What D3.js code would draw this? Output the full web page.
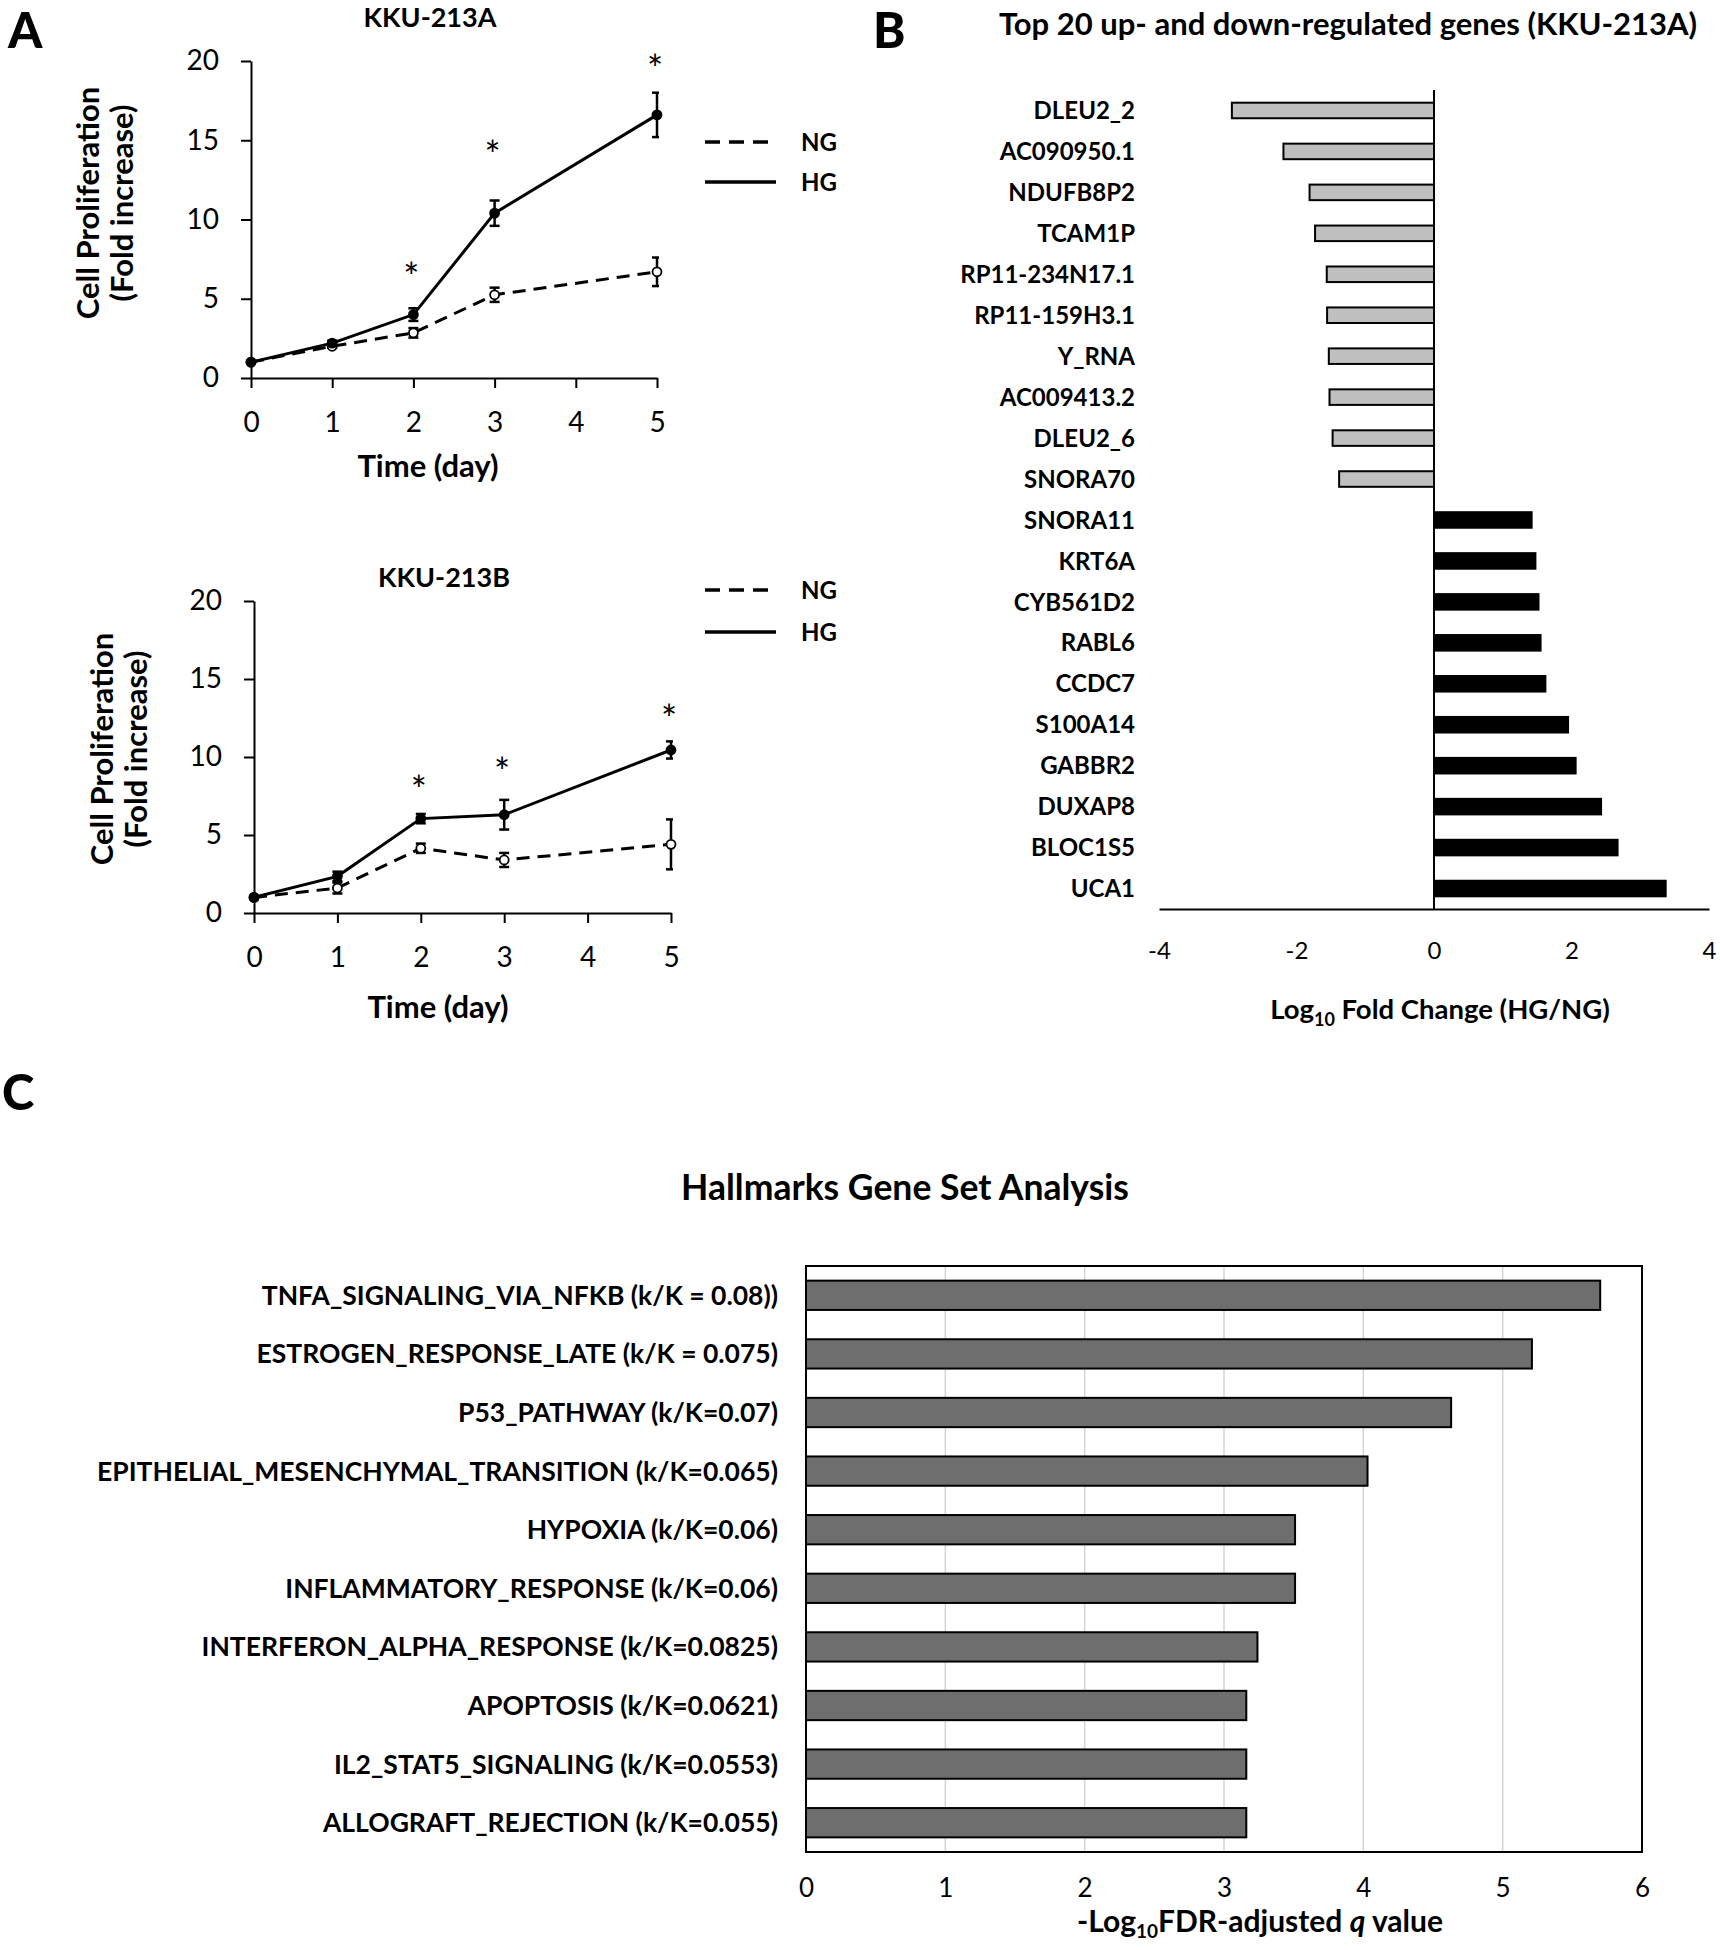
<!DOCTYPE html>
<html><head><meta charset="utf-8">
<script src="https://cdn.jsdelivr.net/npm/d3@7"></script>
<style>
body{margin:0;background:#fff;}
svg{display:block;font-family:Lato,"Open Sans",sans-serif;}
</style>
</head><body>
<svg id="chart" width="1720" height="1950"></svg>
<script>
// ---------- DATA ----------
const days = [0, 1, 2, 3, 5];
const xTicksA = [0, 1, 2, 3, 4, 5];
const yTicksA = [0, 5, 10, 15, 20];
const seriesNames = ["NG", "HG"];

// KKU-213A
const ngA = [1.0, 2.0, 2.85, 5.25, 6.7];
const ngAErr = [0, 0.1, 0.3, 0.45, 0.9];
const hgA = [1.0, 2.2, 4.0, 10.4, 16.6];
const hgAErr = [0, 0.15, 0.4, 0.8, 1.4];
const starDaysA = [2, 3, 5];
const starLevelA = [6.8, 14.5, 19.9];

// KKU-213B
const ngB = [1.0, 1.6, 4.15, 3.4, 4.4];
const ngBErr = [0, 0.35, 0.3, 0.45, 1.6];
const hgB = [1.0, 2.35, 6.05, 6.3, 10.45];
const hgBErr = [0, 0.3, 0.3, 0.95, 0.55];
const starDaysB = [2, 3, 5];
const starLevelB = [8.3, 9.5, 12.9];

// Panel B
const genes = ["DLEU2_2", "AC090950.1", "NDUFB8P2", "TCAM1P", "RP11-234N17.1", "RP11-159H3.1",
  "Y_RNA", "AC009413.2", "DLEU2_6", "SNORA70", "SNORA11", "KRT6A", "CYB561D2", "RABL6",
  "CCDC7", "S100A14", "GABBR2", "DUXAP8", "BLOC1S5", "UCA1"];
const log10FC = [-2.94, -2.19, -1.81, -1.73, -1.56, -1.555, -1.53, -1.52, -1.475, -1.38,
  1.42, 1.475, 1.52, 1.55, 1.62, 1.95, 2.06, 2.43, 2.67, 3.37];
const fcTicks = [-4, -2, 0, 2, 4];

// Panel C
const hallmarks = ["TNFA_SIGNALING_VIA_NFKB (k/K = 0.08))", "ESTROGEN_RESPONSE_LATE (k/K = 0.075)",
  "P53_PATHWAY (k/K=0.07)", "EPITHELIAL_MESENCHYMAL_TRANSITION (k/K=0.065)", "HYPOXIA (k/K=0.06)",
  "INFLAMMATORY_RESPONSE (k/K=0.06)", "INTERFERON_ALPHA_RESPONSE (k/K=0.0825)",
  "APOPTOSIS (k/K=0.0621)", "IL2_STAT5_SIGNALING (k/K=0.0553)", "ALLOGRAFT_REJECTION (k/K=0.055)"];
const negLog10Q = [5.70, 5.21, 4.63, 4.03, 3.51, 3.51, 3.24, 3.16, 3.16, 3.16];
const qTicks = [0, 1, 2, 3, 4, 5, 6];

// ---------- DRAW ----------
const svg = d3.select("#chart");
const BOLD = 700;

function styleAxis(g, fs, weight) {
  g.attr("font-family", null).attr("font-size", null);
  g.selectAll(".domain").attr("stroke", "#000").attr("stroke-width", 2);
  g.selectAll(".tick line").attr("stroke", "#000").attr("stroke-width", 2);
  g.selectAll(".tick text").attr("fill", "#000").style("font-size", fs + "px")
    .style("font-weight", weight || 400);
}

function panelLetter(t, x, y) {
  svg.append("text").attr("x", x).attr("y", y).text(t)
    .style("font-size", "49px").style("font-weight", 900);
}

function linePanel(cfg) {
  const x = d3.scaleLinear().domain([0, 5]).range([cfg.x0, cfg.x1]);
  const y = d3.scaleLinear().domain([0, 20]).range([cfg.y0, cfg.y1]);
  const id = cfg.id;

  svg.append("defs").append("clipPath").attr("id", "clip" + id)
    .append("rect").attr("x", cfg.x0 - 40).attr("y", cfg.y1 - 60)
    .attr("width", cfg.x1 - cfg.x0 + 42).attr("height", cfg.y0 - cfg.y1 + 80);

  const gx = svg.append("g").attr("transform", `translate(0,${cfg.y0})`)
    .call(d3.axisBottom(x).tickValues(xTicksA).tickSize(10).tickSizeOuter(0).tickPadding(24).tickFormat(d3.format("d")));
  styleAxis(gx, 28);
  const gy = svg.append("g").attr("transform", `translate(${cfg.x0},0)`)
    .call(d3.axisLeft(y).tickValues(yTicksA).tickSize(10).tickSizeOuter(0).tickPadding(22));
  styleAxis(gy, 28);

  svg.append("text").attr("x", cfg.titleX).attr("y", cfg.titleY).attr("text-anchor", "middle")
    .text(cfg.title).style("font-size", "27px").style("font-weight", BOLD);
  svg.append("text").attr("x", cfg.xTitleX).attr("y", cfg.xTitleY).attr("text-anchor", "middle")
    .text("Time (day)").style("font-size", "31px").style("font-weight", BOLD);
  const yt = ["Cell Proliferation", "(Fold increase)"];
  yt.forEach((t, i) => {
    svg.append("text").attr("transform", `translate(${cfg.yTitleX[i]},${cfg.yTitleY}) rotate(-90)`)
      .attr("text-anchor", "middle").text(t).style("font-size", "31px").style("font-weight", BOLD);
  });

  const series = [
    { name: "NG", v: cfg.ng, e: cfg.ngErr, dash: "13,8", fill: "#fff" },
    { name: "HG", v: cfg.hg, e: cfg.hgErr, dash: null, fill: "#000" }
  ];
  const line = d3.line().x((d, i) => x(days[i])).y(d => y(d));
  series.forEach(s => {
    svg.append("path").datum(s.v).attr("d", line).attr("fill", "none")
      .attr("stroke", "#000").attr("stroke-width", 3).attr("stroke-dasharray", s.dash);
    const eb = svg.append("g").attr("clip-path", `url(#clip${id})`);
    s.v.forEach((v, i) => {
      const err = s.e[i];
      if (!err) return;
      const cx = x(days[i]);
      eb.append("line").attr("x1", cx).attr("x2", cx).attr("y1", y(v - err)).attr("y2", y(v + err))
        .attr("stroke", "#000").attr("stroke-width", 2.5);
      [v - err, v + err].forEach(c => {
        eb.append("line").attr("x1", cx - 5).attr("x2", cx + 5).attr("y1", y(c)).attr("y2", y(c))
          .attr("stroke", "#000").attr("stroke-width", 2.5);
      });
    });
    svg.append("g").selectAll("circle").data(s.v).join("circle")
      .attr("cx", (d, i) => x(days[i])).attr("cy", d => y(d)).attr("r", 4.5)
      .attr("fill", s.fill).attr("stroke", "#000").attr("stroke-width", 1.8);
  });

  const sfs = 38;
  cfg.starDays.forEach((d, i) => {
    svg.append("text").attr("x", x(d) - 2).attr("y", y(cfg.starLevel[i]) + sfs * 0.55)
      .attr("text-anchor", "middle").text("*").style("font-size", sfs + "px");
  });

  seriesNames.forEach((n, i) => {
    const ly = cfg.legY[i];
    svg.append("line").attr("x1", 705).attr("x2", n === "NG" ? 768 : 776).attr("y1", ly).attr("y2", ly)
      .attr("stroke", "#000").attr("stroke-width", 3.5).attr("stroke-dasharray", n === "NG" ? "15,9" : null);
    svg.append("text").attr("x", 801).attr("y", ly + 9).text(n)
      .style("font-size", "24px").style("font-weight", BOLD);
  });
}

panelLetter("A", 8, 48);
linePanel({ id: "a", x0: 251, x1: 657, y0: 378, y1: 61, ng: ngA, ngErr: ngAErr, hg: hgA, hgErr: hgAErr,
  starDays: starDaysA, starLevel: starLevelA, title: "KKU-213A", titleX: 430, titleY: 27,
  xTitleX: 428, xTitleY: 477, yTitleX: [99, 133], yTitleY: 203, legY: [142, 182] });
linePanel({ id: "b", x0: 254, x1: 671, y0: 913, y1: 601, ng: ngB, ngErr: ngBErr, hg: hgB, hgErr: hgBErr,
  starDays: starDaysB, starLevel: starLevelB, title: "KKU-213B", titleX: 444, titleY: 587,
  xTitleX: 438, xTitleY: 1018, yTitleX: [113, 147], yTitleY: 749, legY: [590, 632] });

// ---------- Panel B ----------
panelLetter("B", 873, 48);
svg.append("text").attr("x", 1348).attr("y", 35).attr("text-anchor", "middle")
  .text("Top 20 up- and down-regulated genes (KKU-213A)").style("font-size", "31px").style("font-weight", BOLD);

const xb = d3.scaleLinear().domain([-4, 4]).range([1159, 1709]);
const yb = d3.scaleBand().domain(genes).range([90, 909]).paddingInner(0.62).paddingOuter(0.31);

svg.append("g").selectAll("rect").data(genes).join("rect")
  .attr("x", (g, i) => Math.min(xb(log10FC[i]), xb(0)))
  .attr("width", (g, i) => Math.abs(xb(log10FC[i]) - xb(0)))
  .attr("y", g => yb(g)).attr("height", yb.bandwidth())
  .attr("fill", (g, i) => log10FC[i] < 0 ? "#bfbfbf" : "#000")
  .attr("stroke", "#000").attr("stroke-width", 2);

svg.append("line").attr("x1", xb(0)).attr("x2", xb(0)).attr("y1", 90).attr("y2", 909)
  .attr("stroke", "#000").attr("stroke-width", 2);
const gxb = svg.append("g").attr("transform", "translate(0,909)")
  .call(d3.axisBottom(xb).tickValues(fcTicks).tickSize(0).tickSizeOuter(0).tickPadding(33));
styleAxis(gxb, 24);
gxb.selectAll(".tick text").text(d => d < 0 ? "-" + Math.abs(d) : d);

svg.append("g").selectAll("text").data(genes).join("text")
  .attr("x", 1135).attr("y", g => yb(g) + yb.bandwidth() / 2).attr("dy", "0.36em")
  .attr("text-anchor", "end").text(g => g).style("font-size", "24px").style("font-weight", BOLD);

const tb = svg.append("text").attr("x", 1440).attr("y", 1019).attr("text-anchor", "middle")
  .style("font-size", "27.5px").style("font-weight", BOLD);
tb.append("tspan").text("Log");
tb.append("tspan").text("10").attr("dy", 7).style("font-size", "18px");
tb.append("tspan").text(" Fold Change (HG/NG)").attr("dy", -7);

// ---------- Panel C ----------
panelLetter("C", 2, 1110);
svg.append("text").attr("x", 905).attr("y", 1200).attr("text-anchor", "middle")
  .text("Hallmarks Gene Set Analysis").style("font-size", "35.5px").style("font-weight", BOLD);

const xc = d3.scaleLinear().domain([0, 6]).range([806, 1642]);
const yc = d3.scaleBand().domain(hallmarks).range([1266, 1852]).paddingInner(0.5).paddingOuter(0.25);

svg.append("g").selectAll("line").data(qTicks.slice(1, -1)).join("line")
  .attr("x1", d => xc(d)).attr("x2", d => xc(d)).attr("y1", 1266).attr("y2", 1852)
  .attr("stroke", "#d4d4d4").attr("stroke-width", 1.5);

svg.append("g").selectAll("rect").data(hallmarks).join("rect")
  .attr("x", xc(0)).attr("width", (h, i) => xc(negLog10Q[i]) - xc(0))
  .attr("y", h => yc(h)).attr("height", yc.bandwidth())
  .attr("fill", "#6e6e6e").attr("stroke", "#000").attr("stroke-width", 2);

svg.append("rect").attr("x", 806).attr("y", 1266).attr("width", 1642 - 806).attr("height", 1852 - 1266)
  .attr("fill", "none").attr("stroke", "#000").attr("stroke-width", 2);

const gxc = svg.append("g").attr("transform", "translate(0,1852)")
  .call(d3.axisBottom(xc).tickValues(qTicks).tickSize(0).tickSizeOuter(0).tickPadding(27).tickFormat(d3.format("d")));
styleAxis(gxc, 26);
gxc.select(".domain").remove();

svg.append("g").selectAll("text").data(hallmarks).join("text")
  .attr("x", 778).attr("y", h => yc(h) + yc.bandwidth() / 2).attr("dy", "0.36em")
  .attr("text-anchor", "end").text(h => h).style("font-size", "26.5px").style("font-weight", BOLD);

const tc = svg.append("text").attr("x", 1260).attr("y", 1932).attr("text-anchor", "middle")
  .style("font-size", "30px").style("font-weight", BOLD);
tc.append("tspan").text("-Log");
tc.append("tspan").text("10").attr("dy", 6).style("font-size", "19px");
tc.append("tspan").text("FDR-adjusted ").attr("dy", -6);
tc.append("tspan").text("q").style("font-style", "italic");
tc.append("tspan").text(" value");
</script>
</body></html>
